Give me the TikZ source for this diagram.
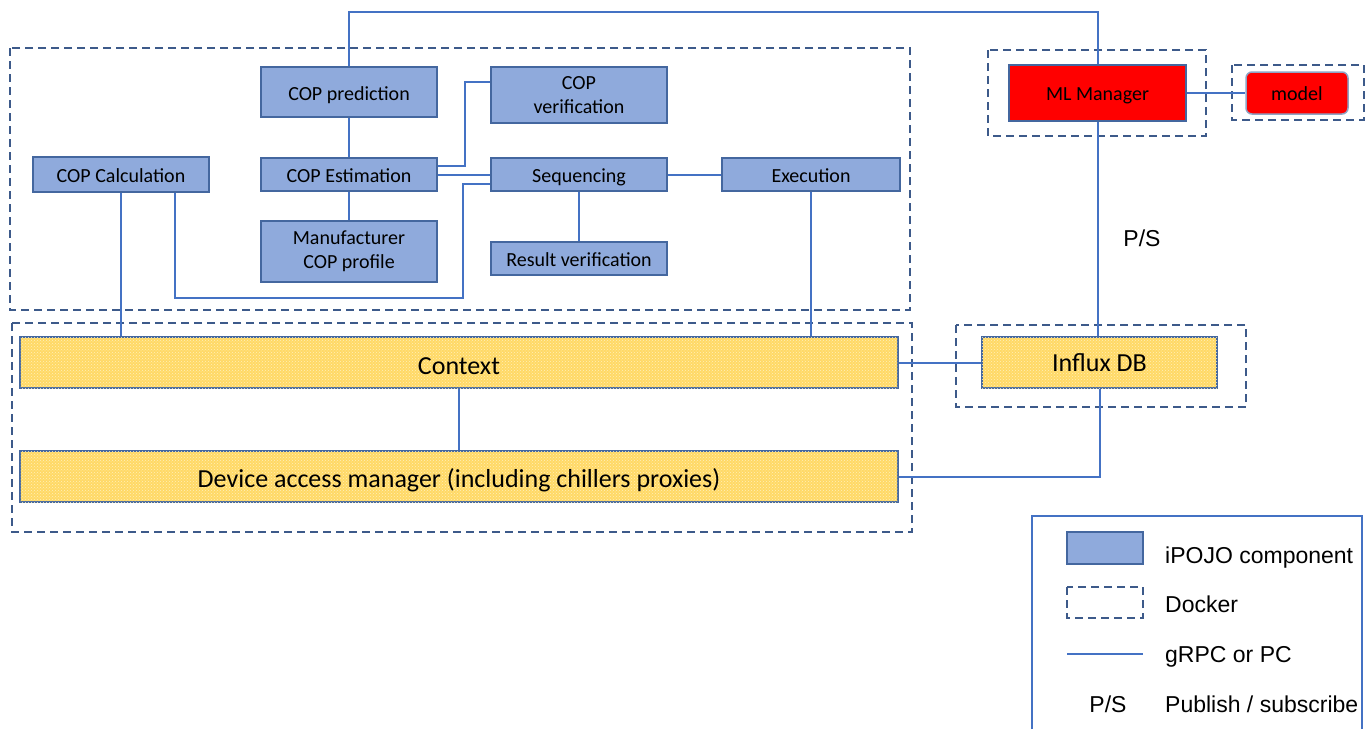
\documentclass[tikz,border=0pt]{standalone}
\usepackage{fontspec}
\setmainfont{Carlito}
\newfontfamily\arialf{Liberation Sans}
\usetikzlibrary{patterns}
\definecolor{boxfill}{HTML}{8FAADC}
\definecolor{boxline}{HTML}{44679F}
\definecolor{connc}{HTML}{4472C4}
\definecolor{dockc}{HTML}{3D5A8A}
\definecolor{yel}{HTML}{FFD966}
\definecolor{yeldot}{HTML}{FFF0B8}
\tikzset{
  conn/.style={draw=connc, line width=2pt},
  blubox/.style={draw=boxline, fill=boxfill, line width=1.8pt, inner sep=0pt, align=center,
     font=\fontsize{20}{24}\selectfont},
  oneline/.style={text height=16pt, text depth=0pt},
  yelbox/.style={draw=boxline, fill=yel, line width=2pt, inner sep=0pt,
     postaction={pattern=crosshatch dots, pattern color=yeldot},
     font=\fontsize{26}{30}\selectfont},
  redbox/.style={draw=boxline, fill=red, line width=1.5pt, inner sep=0pt,
     text height=14pt, text depth=0pt,
     font=\fontsize{20}{24}\selectfont},
  docker/.style={draw=dockc, line width=2.5pt, dash pattern=on 8pt off 5pt},
  legtext/.style={anchor=base west, inner sep=0pt, font=\arialf\fontsize{23}{26}\selectfont},
}
\begin{document}
\begin{tikzpicture}[x=1pt,y=-1pt]
\useasboundingbox (0,0) rectangle (1369,729);
% dockers
\draw[docker] (10,48) rectangle (910,310);
\draw[docker] (12,323) rectangle (912,532);
\draw[docker] (988,50) rectangle (1206,136);
\draw[docker] (1232,65) rectangle (1364,120);
\draw[docker] (956,325) rectangle (1246,407);
% blue components
\node[blubox, oneline, minimum width=176pt, minimum height=50pt] (pred) at (349,92) {COP prediction};
\node[blubox, minimum width=176pt, minimum height=56pt] (ver) at (579,95) {COP\\verification};
\node[blubox, oneline, minimum width=176pt, minimum height=33pt] (est) at (349,174.5) {COP Estimation};
\node[blubox, oneline, minimum width=176pt, minimum height=33pt] (seq) at (579,174.5) {Sequencing};
\node[blubox, minimum width=176pt, minimum height=61pt] (man) at (349,251.5) {Manufacturer\\COP profile};
\node[blubox, oneline, minimum width=176pt, minimum height=33pt] (res) at (579,258.5) {Result verification};
\node[blubox, oneline, minimum width=176pt, minimum height=35pt] (calc) at (121,174.5) {COP Calculation};
\node[blubox, oneline, minimum width=178pt, minimum height=33pt] (exe) at (811,174.5) {Execution};
% yellow
\node[yelbox, text height=24pt, text depth=0pt, minimum width=878pt, minimum height=51pt] (ctx) at (459,362.5) {Context};
\node[yelbox, text height=21pt, text depth=0pt, minimum width=878pt, minimum height=51pt] (dev) at (459,476.5) {Device access manager (including chillers proxies)};
\node[yelbox, text height=17pt, text depth=0pt, minimum width=235pt, minimum height=51pt] (influx) at (1099.5,362.5) {Influx DB};
% red
\node[redbox, minimum width=177pt, minimum height=56pt] (ml) at (1097.5,93) {ML Manager};
\node[redbox, draw=boxline!60, rounded corners=6pt, minimum width=102pt, minimum height=42pt] (model) at (1297,93) {model};
% connectors
\coordinate (topc) at (349,12);
\draw[conn] (pred.north) -- (topc) -| (ml.north);
\draw[conn] (pred) -- (est);
\draw[conn] (est) -- (man);
\coordinate (v1) at (465,166);
\draw[conn] ([yshift=8.5pt]est.east) -- (v1) |- ([yshift=13pt]ver.west);
\draw[conn] (est.east) -- (seq.west);
\coordinate (v2) at (463,184);
\coordinate (v3) at (463,298);
\draw[conn] ([yshift=-9.5pt]seq.west) -- (v2) -- (v3) -| ([xshift=54pt]calc.south);
\draw[conn] (calc.south) -- (calc.south |- ctx.north);
\draw[conn] (seq) -- (res);
\draw[conn] (seq) -- (exe);
\draw[conn] (exe.south) -- (exe.south |- ctx.north);
\draw[conn] (ctx) -- (dev);
\draw[conn] (ctx.east) -- (influx.west);
\draw[conn] (ml.south) -- (ml.south |- influx.north);
\draw[conn] (ml.east) -- (model.west);
\draw[conn] (influx.south) |- (dev.east);
\node[anchor=base, inner sep=0pt, font=\arialf\fontsize{23}{26}\selectfont] (ps) at (1142,246) {P/S};
% legend
\draw[draw=connc, line width=1.5pt] (1032,729) -- (1032,516) -- (1362,516) -- (1362,729);
\node[draw=boxline, fill=boxfill, line width=1.5pt, minimum width=76pt, minimum height=32pt, inner sep=0pt] (lg1) at (1105,548) {};
\node[legtext] (lt1) at (1165,563) {iPOJO component};
\draw[docker, line width=2pt] (1067,587) rectangle (1143,618);
\node[legtext] (lt2) at (1165,612) {Docker};
\coordinate (la) at (1067,654);
\coordinate (lb) at (1143,654);
\draw[conn] (la) -- (lb);
\node[legtext] (lt3) at (1165,662) {gRPC or PC};
\node[anchor=base, inner sep=0pt, font=\arialf\fontsize{23}{26}\selectfont] (lps) at (1108,712) {P/S};
\node[legtext] (lt4) at (1165,712) {Publish / subscribe};
\end{tikzpicture}
\end{document}
